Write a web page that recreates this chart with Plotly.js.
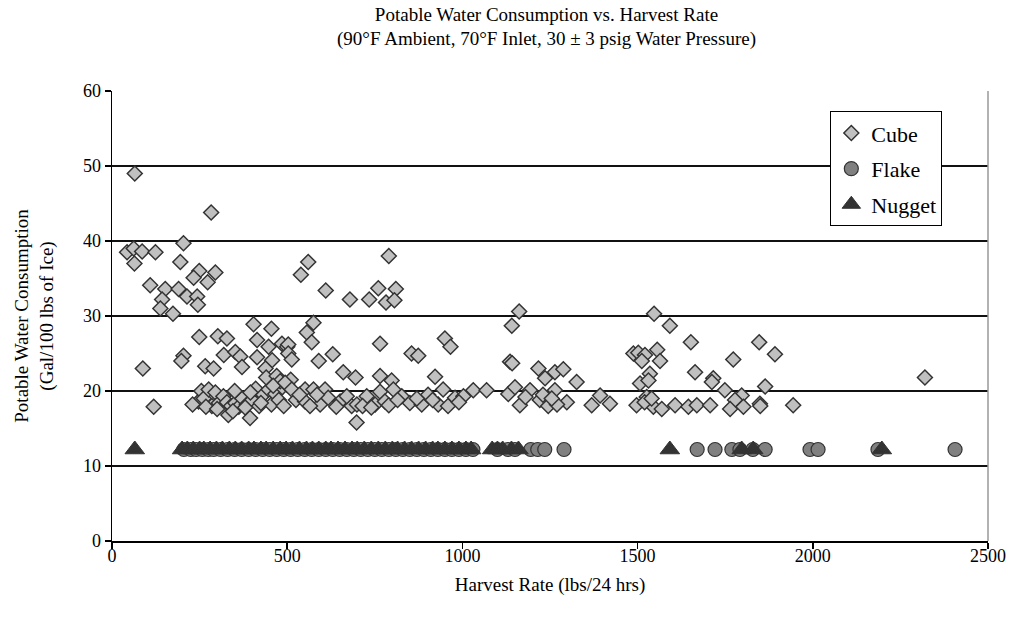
<!DOCTYPE html>
<html>
<head>
<meta charset="utf-8">
<script src="https://cdn.plot.ly/plotly-3.0.1.min.js"></script>
<style>html,body{margin:0;padding:0;background:#fff;}#chart{width:1012px;height:625px;}</style>
</head>
<body>
<div id="chart"></div>
<script>
// Cube series (Harvest rate lbs/24hrs, water consumption gal/100 lbs)
const cubeX = [
  65,283,204,43,62,86,124,64,195,249,295,233,273,109,152,190,143,214,243,245,138,174,
  404,455,249,302,328,414,485,500,447,319,352,366,414,204,198,457,88,266,290,371,438,119,
  394,332,
  247,255,262,276,285,295,305,318,328,340,352,362,372,385,400,410,420,432,447,455,466,476,486,462,440,470,480,500,510,460,230,268,300,345,380,425,490,395,350,
  560,539,790,610,679,734,760,782,810,806,575,556,570,503,503,513,765,950,966,855,874,630,590,660,695,765,798,922,698,
  494,513,551,575,608,525,551,594,617,651,684,699,727,751,765,779,803,827,850,884,902,931,959,945,979,1003,
  535,565,585,640,670,715,740,790,815,870,915,990,
  1162,1141,1136,1142,1217,1264,1288,1236,1326,1488,
  1031,1069,1131,1150,1164,1193,1221,1245,1264,1298,1369,1393,1421,1180,1230,1270,1255,
  1547,1592,1652,1847,1892,1773,1502,1521,1556,1512,1564,1535,1507,1531,1664,1716,1712,1749,1864,1797,1778,1526,
  1497,1545,1569,1607,1645,1669,1707,1764,1802,1849,1944,1520,1540,1850,
  2320
];
const cubeY = [
  49.0,43.8,39.7,38.5,39.0,38.6,38.5,37.0,37.2,36.0,35.8,35.1,34.5,34.1,33.6,33.6,32.2,32.6,32.6,31.5,31.0,30.3,
  28.9,28.3,27.2,27.3,27.0,26.8,26.3,25.9,25.9,24.8,25.2,24.6,24.5,24.7,24.0,24.1,23.0,23.3,23.0,23.2,23.0,17.9,
  16.4,16.8,
  18.6,20.0,19.0,20.2,18.0,19.8,18.4,19.3,18.5,18.0,18.4,17.9,19.0,18.2,18.8,20.3,18.0,19.5,20.2,18.2,19.6,18.8,20.5,21.0,21.8,22.0,21.3,20.8,21.5,20.7,18.2,17.9,17.6,17.3,17.8,18.4,18.0,19.8,20.0,
  37.2,35.5,38.0,33.4,32.2,32.2,33.7,31.8,33.6,32.1,29.1,27.8,26.5,26.2,25.0,24.2,26.3,27.0,25.9,25.0,24.7,24.9,24.0,22.5,21.8,22.0,21.4,21.9,15.8,
  21.1,20.2,20.2,20.2,20.2,18.8,18.6,18.2,19.1,18.6,18.0,18.2,19.3,18.2,19.9,18.6,20.2,19.3,18.4,18.2,19.5,18.2,18.0,20.2,19.1,19.3,
  19.5,18.0,19.5,17.9,19.3,18.0,17.8,18.1,18.8,19.0,18.8,18.5,
  30.6,28.7,23.9,23.7,23.0,22.5,22.9,21.7,21.2,25.0,
  20.1,20.1,19.6,20.5,18.1,20.1,18.8,18.0,20.1,18.5,18.1,19.4,18.3,19.2,19.5,18.2,19.0,
  30.3,28.7,26.5,26.5,24.9,24.2,25.1,24.8,25.5,24.0,24.0,22.3,21.0,21.4,22.5,21.7,21.2,20.1,20.6,19.4,18.8,19.2,
  18.1,17.9,17.6,18.1,17.9,18.1,18.1,17.6,17.9,18.3,18.1,18.5,19.0,18.0,
  21.8
];
// Flake series
const flakeX = [205,225,240,258,275,290,310,330,350,370,390,410,430,450,470,490,510,530,550,570,590,610,630,650,670,690,710,730,750,770,790,810,830,850,870,890,910,930,950,970,990,1010,1030,1100,1130,1150,1195,1215,1235,1290,1670,1721,1769,1792,1829,1864,1992,2015,2186,2406];
const flakeY = [12.2,12.2,12.2,12.2,12.2,12.2,12.2,12.2,12.2,12.2,12.2,12.2,12.2,12.2,12.2,12.2,12.2,12.2,12.2,12.2,12.2,12.2,12.2,12.2,12.2,12.2,12.2,12.2,12.2,12.2,12.2,12.2,12.2,12.2,12.2,12.2,12.2,12.2,12.2,12.2,12.2,12.2,12.2,12.2,12.2,12.2,12.2,12.2,12.2,12.2,12.2,12.2,12.2,12.2,12.2,12.2,12.2,12.2,12.2,12.2];
// Nugget series
const nuggetX = [65,200,215,232,250,262,280,298,315,335,352,370,390,405,425,440,460,480,497,515,535,555,572,590,610,625,645,665,685,700,720,740,760,780,800,815,835,855,875,895,915,930,950,970,990,1010,1025,1085,1100,1115,1140,1160,1592,1797,1830,2197];
const nuggetY = [12.2,12.2,12.2,12.2,12.2,12.2,12.2,12.2,12.2,12.2,12.2,12.2,12.2,12.2,12.2,12.2,12.2,12.2,12.2,12.2,12.2,12.2,12.2,12.2,12.2,12.2,12.2,12.2,12.2,12.2,12.2,12.2,12.2,12.2,12.2,12.2,12.2,12.2,12.2,12.2,12.2,12.2,12.2,12.2,12.2,12.2,12.2,12.2,12.2,12.2,12.2,12.2,12.2,12.2,12.2,12.2];

const seriesNames = ['Cube','Flake','Nugget'];
const xTickVals = [0,500,1000,1500,2000,2500];
const yTickVals = [0,10,20,30,40,50,60];

const FONT = 'Liberation Serif, Times New Roman, serif';

const traces = [
  {x: cubeX, y: cubeY, name: seriesNames[0], legendgroup: 'g1', type: 'scatter', mode: 'markers',
   marker: {symbol: 'diamond', size: 11.5, color: '#C0C0C0', line: {color: '#333333', width: 1.5}}},
  {x: flakeX, y: flakeY, name: seriesNames[1], legendgroup: 'g2', type: 'scatter', mode: 'markers',
   marker: {symbol: 'circle', size: 14, color: '#808080', line: {color: '#333333', width: 1.2}}},
  {x: nuggetX, y: nuggetY, name: seriesNames[2], legendgroup: 'g3', type: 'scatter', mode: 'markers',
   marker: {symbol: 'triangle-up', size: 17, color: '#333333', line: {color: '#333333', width: 1}}}
];

const layout = {
  width: 1012, height: 625,
  paper_bgcolor: '#ffffff', plot_bgcolor: '#ffffff',
  font: {family: FONT, size: 18, color: '#000'},
  margin: {l: 112, r: 24, t: 91, b: 84},
  title: {text: 'Potable Water Consumption vs. Harvest Rate<br>(90°F Ambient, 70°F Inlet, 30 ± 3 psig Water Pressure)',
          font: {family: FONT, size: 19, color: '#000'}, x: 0.54, xanchor: 'center', y: 0.967, yanchor: 'middle'},
  showlegend: true,
  legend: {x: 0.82, y: 0.955, xanchor: 'left', yanchor: 'top', bgcolor: '#fff', bordercolor: '#000', borderwidth: 1,
           font: {family: FONT, size: 22, color: '#000'}, itemwidth: 30, tracegroupgap: 4},
  xaxis: {range: [0, 2500], tickvals: xTickVals, ticks: 'outside', ticklen: 6, tickcolor: '#000', tickwidth: 1.5,
          showline: true, linecolor: '#000', linewidth: 1.5, showgrid: false, zeroline: false,
          tickfont: {family: FONT, size: 18}, fixedrange: true, ticklabelstandoff: -8,
          title: {text: 'Harvest Rate (lbs/24 hrs)', font: {family: FONT, size: 19}, standoff: 12}},
  yaxis: {range: [0, 60], tickvals: yTickVals, ticks: 'outside', ticklen: 6, tickcolor: '#000', tickwidth: 1.5,
          showline: true, linecolor: '#000', linewidth: 1.5, showgrid: true, gridcolor: '#111', gridwidth: 1.5,
          zeroline: false, tickfont: {family: FONT, size: 18}, fixedrange: true,
          title: {text: 'Potable Water Consumption<br>(Gal/100 lbs of Ice)', font: {family: FONT, size: 19}, standoff: 24}},
  shapes: [
    {type: 'line', xref: 'paper', yref: 'paper', x0: 1, x1: 1, y0: 0, y1: 1, line: {color: '#999', width: 1.5}}
  ]
};

Plotly.newPlot('chart', traces, layout, {displayModeBar: false, staticPlot: true});
</script>
</body>
</html>
